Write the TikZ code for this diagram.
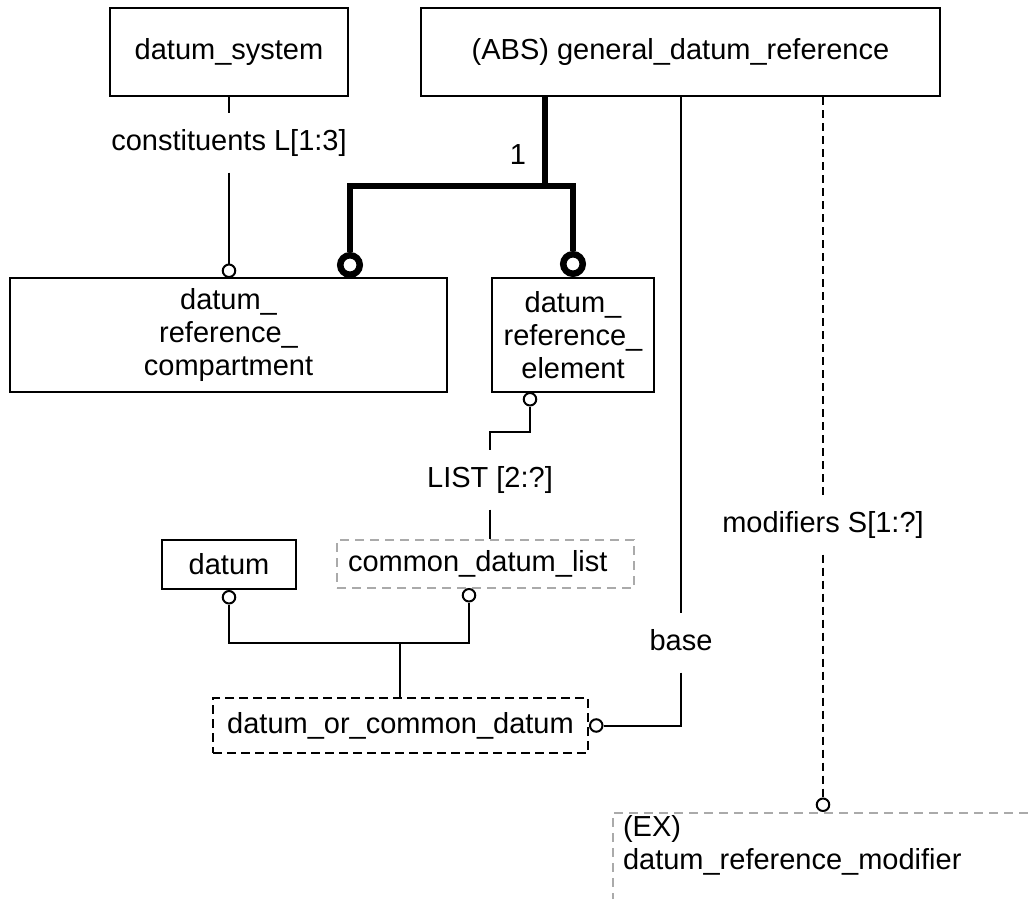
\documentclass[tikz,border=0pt]{standalone}
\usepackage{fontspec}
\setmainfont{Liberation Sans}
\usepackage{tikz}
\usetikzlibrary{positioning}
\usetikzlibrary{calc}
\definecolor{exgray}{RGB}{170,170,170}
\newcommand\entnode[5][]{%
  \node[entity,#1,minimum width=#2pt,minimum height=#3pt] (#4) {#5};
}

\begin{document}
\begin{tikzpicture}[
x=1pt,y=-1pt,
font=\fontsize{29}{33}\selectfont,
entity/.style={
  draw,
  line width=2pt,
  align=center,
  inner sep=0pt},
selectbox/.style={entity, dash pattern=on 9pt off 5pt},
exbox/.style={entity, draw=exgray, dash pattern=on 9pt off 6pt},
rel/.style={line width=2pt},
thickrel/.style={line width=6pt},
deprel/.style={line width=2pt, dash pattern=on 8pt off 5pt},
ring/.style={circle, draw, fill=white, line width=2pt, inner sep=0pt, minimum size=12.5pt},
bigring/.style={circle, draw, fill=white, line width=6.5pt, inner sep=0pt, minimum size=19.5pt},
rolelabel/.style={inner xsep=2pt, inner ysep=16pt, text height=21pt, text depth=6pt}
]
\useasboundingbox (0,0) rectangle (1029,898);
\clip (0,0) rectangle (1029,898);

\entnode[at={(229,52)}]{238}{88}{sys}{datum\_system}
\entnode[right=71pt of sys]{519}{88}{gdr}{(ABS) general\_datum\_reference}
\entnode[at={(228.5,335)}]{437}{114}{comp}{datum\_\\reference\_\\compartment}
\entnode[right=43pt of comp]{162}{114}{elem}{datum\_\\reference\_\\element}
\entnode[at={(229,564.5)}]{134}{49}{dat}{datum}
\node[exbox, at={(485.5,564)}, minimum width=297pt, minimum height=48pt,
  text width=275pt, inner xsep=11pt, align=left] (cdl) {common\_datum\_list};
\node[selectbox, at={(400.5,725.5)}, minimum width=375pt, minimum height=55pt] (dcd) {datum\_or\_common\_datum};
\node[exbox, anchor=north west, at={(612,812)}, text width=560pt, inner xsep=10pt,
  inner ysep=2pt, align=left] (mod) {(EX)\\datum\_reference\_modifier\\\rule{0pt}{60pt}};

\node[ring, anchor=south] (rcon) at (229,278) {};
\node[bigring, anchor=south] (rcomp) at (350,278) {};
\node[bigring, anchor=south] (relem) at (elem.north) {};
\node[ring, anchor=north] (relbot) at (530,392) {};
\node[ring, anchor=north] (rdat) at (dat.south) {};
\node[ring, anchor=north] (rcdl) at (469,588) {};
\node[ring, anchor=west] (rbase) at (dcd.east) {};
\node[ring, anchor=south] (rmod) at (823,812) {};

\node[rolelabel] (lcon) at (229,143) {constituents L[1:3]};
\node (lone) at (518,155) {1};
\node[rolelabel] (llist) at (490,480) {LIST [2:?]};
\node[rolelabel] (lbase) at (681,643) {base};
\node[rolelabel] (lmod) at (823,525) {modifiers S[1:?]};

\coordinate (split) at (545,186);
\coordinate (bend) at (530,432);
\coordinate (join) at (400,643);

\draw[rel] (sys) -- (lcon);
\draw[rel] (lcon) -- (rcon);
\draw[thickrel] (gdr.south -| split) -- (split);
\draw[thickrel] (rcomp) -- (rcomp |- split) -| (relem);
\draw[rel] (gdr.south -| lbase) -- (lbase);
\draw[rel] (lbase) |- (rbase);
\draw[deprel] (gdr.south -| lmod) -- (lmod);
\draw[deprel] (lmod) -- (rmod);
\draw[rel] (relbot) -- (bend) -| (llist);
\draw[rel] (llist) -- (llist |- cdl.north);
\draw[rel] (rdat) |- (join) -| (rcdl);
\draw[rel] (join) -- (join |- dcd.north);
\end{tikzpicture}
\end{document}
